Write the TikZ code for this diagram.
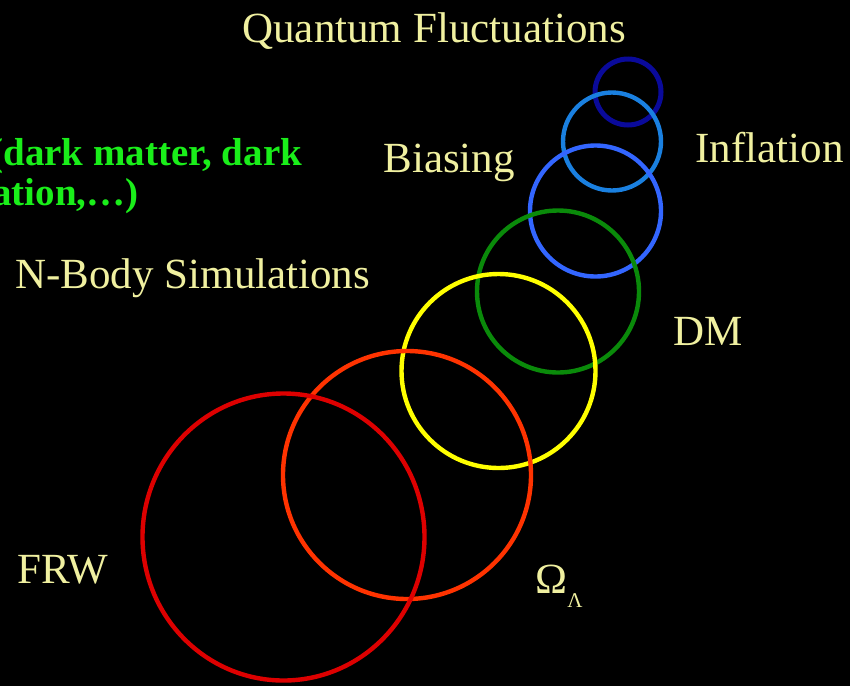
\documentclass[tikz,border=0pt]{standalone}
\usepackage{fontspec}
\usepackage{tikz}
\usepackage{xcolor}
\setmainfont{Liberation Serif}
\definecolor{SlideText}{HTML}{F0F0A0}
\definecolor{SlideGreen}{HTML}{1AEE1A}
\definecolor{RingNavy}{HTML}{0A0A9A}
\definecolor{RingSky}{HTML}{1A80E0}
\definecolor{RingBlue}{HTML}{3366FF}
\definecolor{RingGreen}{HTML}{0A8A0A}
\definecolor{RingYellow}{HTML}{FFFF00}
\definecolor{RingOrange}{HTML}{FF3300}
\definecolor{RingRed}{HTML}{DD0000}

\begin{document}
\begin{tikzpicture}[
    x=0.5pt, y=-0.5pt,
    ring/.style={line width=2.2pt},
    label/.style={inner sep=0pt, anchor=base west, text=SlideText,
                  font=\fontsize{21.5}{24}\selectfont},
    note/.style={inner sep=0pt, text=SlideGreen,
                 font=\fontsize{19.5}{22}\selectfont\bfseries}
]
\fill[black] (0,0) rectangle (850,686);
\clip (0,0) rectangle (850,686);

% rings, small to large
\draw[ring, line width=2.5pt, RingNavy] (628,92) circle (33);
\draw[ring, RingSky] (612,141.5) circle (49);
\draw[ring, RingBlue] (595.5,211) circle (65.5);
\draw[ring, RingGreen] (558,291.5) circle (81);
\draw[ring, RingYellow] (498.5,371) circle (97);
\draw[ring, RingOrange] (407,475) circle (124);
\draw[ring, RingRed] (283.5,537) ellipse (141 and 143.5);

% labels
\node[label] (quantum) at (242,42) {Quantum Fluctuations};
\node[label] (inflation) at (695,162) {Inflation};
\node[label] (biasing) at (383,172) {Biasing};
\node[label] (nbody) at (15,288) {N-Body Simulations};
\node[label] (dm) at (673,345) {DM};
\node[label] (frw) at (17,583) {FRW};
\node[label] (omega) at (535,593) {Ω\raisebox{-7pt}{\fontsize{10.5}{12}\selectfont Λ}};

\node[note, anchor=base west] (darkone) at (-10,165) {(dark matter, dark};
\node[note, anchor=base east] (darktwo) at (139,205) {ation,…)};
\end{tikzpicture}
\end{document}
